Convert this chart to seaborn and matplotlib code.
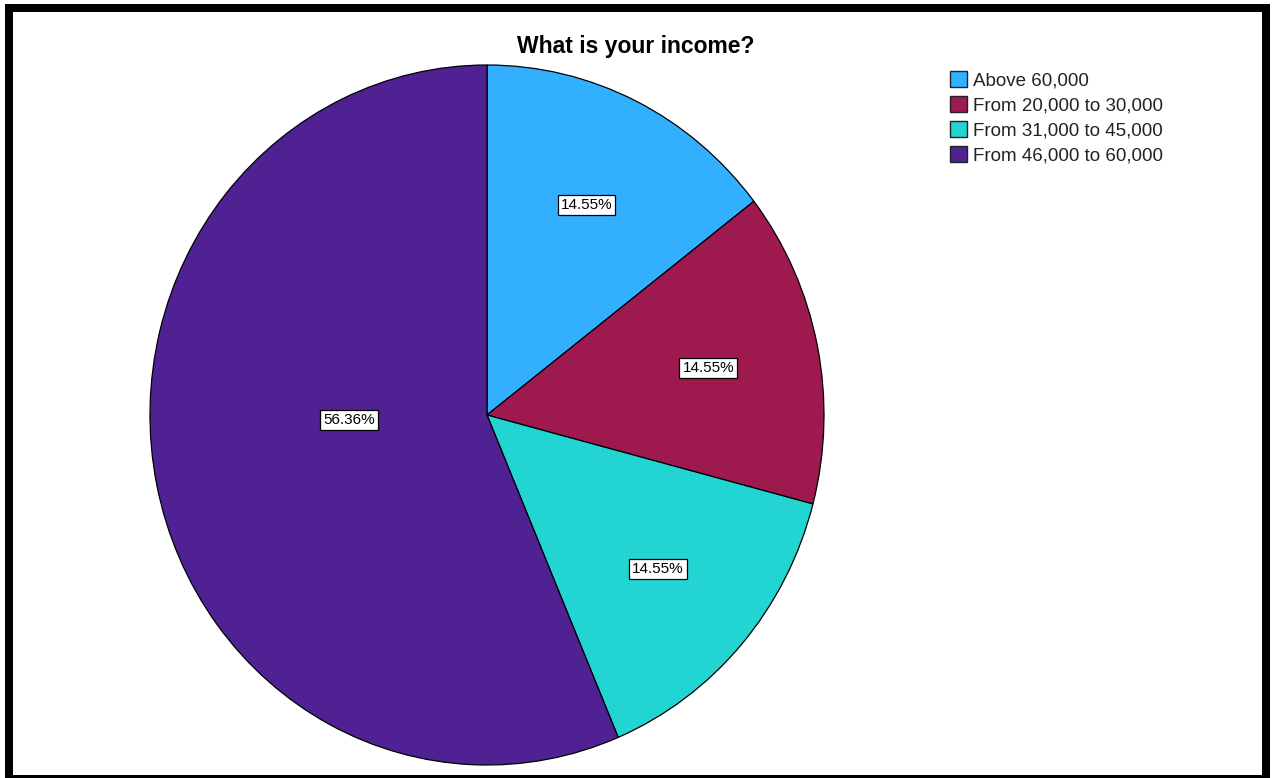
import numpy as np
import matplotlib
matplotlib.use("Agg")
import matplotlib.pyplot as plt
import seaborn as sns
from matplotlib.patches import Rectangle, Patch

categories = ["Above 60,000", "From 20,000 to 30,000", "From 31,000 to 45,000", "From 46,000 to 60,000"]
counts = [8, 8, 8, 31]
colors = ["#33AFFF", "#9E1A4E", "#22D5D2", "#4F2193"]
title = "What is your income?"

sns.set_theme(style="white")
plt.rcParams["font.family"] = ["Liberation Sans", "DejaVu Sans"]
plt.rcParams["text.color"] = "black"
palette = sns.color_palette(colors)

W, H = 1272, 778
fig = plt.figure(figsize=(W / 100, H / 100), dpi=100)
fig.patch.set_facecolor("white")

cx, cy, rx, ry = 487, 415, 337, 350
ax = fig.add_axes([(cx - rx) / W, (H - cy - ry) / H, 2 * rx / W, 2 * ry / H])

wedges, texts, autotexts = ax.pie(
    counts, colors=palette, startangle=90, counterclock=False,
    autopct="%1.2f%%", pctdistance=0.67,
    wedgeprops=dict(edgecolor="black", linewidth=0.9),
    textprops=dict(fontsize=11, color="black"),
)
ax.set_aspect("auto")
ax.set_xlim(-1, 1)
ax.set_ylim(-1, 1)
ax.axis("off")

for t in autotexts:
    t.set_bbox(dict(boxstyle="square,pad=0.2", facecolor="white", edgecolor="black", linewidth=0.9))

# place the large slice label nearer the centre, as in the reference
big = autotexts[3]
ang = np.deg2rad(182)
big.set_position((0.41 * np.cos(ang), 0.41 * np.sin(ang)))

fig.text(0.5, 1 - 46 / H, title, ha="center", va="center", fontsize=16.5,
         fontweight="bold", color="black")

handles = [Patch(facecolor=c, edgecolor="#222222", linewidth=1.0) for c in palette]
fig.legend(handles, categories, loc="upper left", bbox_to_anchor=(950 / W, 1 - 71 / H),
           frameon=False, fontsize=13.5, handlelength=0.92, handleheight=0.92,
           handletextpad=0.3, labelspacing=0.36, borderpad=0, borderaxespad=0,
           labelcolor="#222222")

fig.add_artist(Rectangle((8.5 / W, -1 / H), (1265.5 - 8.5) / W, (770 + 1) / H,
                         transform=fig.transFigure, fill=False, edgecolor="black",
                         linewidth=8 * 0.72, clip_on=False))

fig.savefig("out.png", dpi=100, facecolor="white")
